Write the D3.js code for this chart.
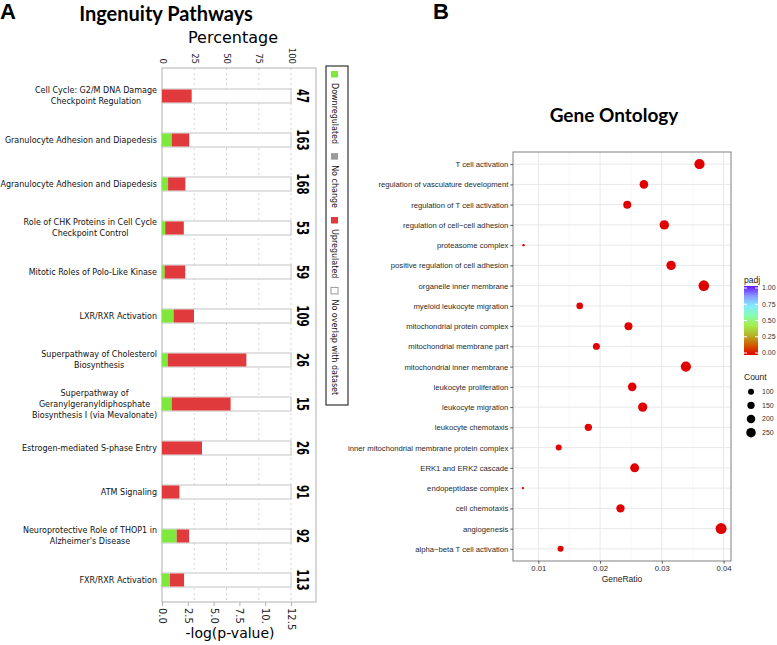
<!DOCTYPE html>
<html>
<head>
<meta charset="utf-8">
<script src="https://cdn.jsdelivr.net/npm/d3@7"></script>
<style>
body { margin: 0; background: #fff; }
svg { display: block; }
</style>
</head>
<body>
<div id="chart"></div>
<script>
// ---- panel A data (IPA) ----
var pathways = [
    "Cell Cycle: G2/M DNA Damage\nCheckpoint Regulation",
    "Granulocyte Adhesion and Diapedesis",
    "Agranulocyte Adhesion and Diapedesis",
    "Role of CHK Proteins in Cell Cycle\nCheckpoint Control",
    "Mitotic Roles of Polo-Like Kinase",
    "LXR/RXR Activation",
    "Superpathway of Cholesterol\nBiosynthesis",
    "Superpathway of\nGeranylgeranyldiphosphate\nBiosynthesis I (via Mevalonate)",
    "Estrogen-mediated S-phase Entry",
    "ATM Signaling",
    "Neuroprotective Role of THOP1 in\nAlzheimer's Disease",
    "FXR/RXR Activation"
];
var downPct     = [0, 7.5, 4.7, 2.5, 2, 9, 4.4, 7.5, 0, 0, 11.4, 6.2];
var noChangePct = [0, 0, 0, 0, 0, 0, 0, 0, 0, 0, 0, 0];
var upPct       = [23, 13.6, 13.4, 14.4, 16, 15.8, 61, 45.7, 31, 13.5, 9.6, 10.9];
var totalGenes  = [47, 163, 168, 53, 59, 109, 26, 15, 26, 91, 92, 113];
var pctTicks = [0, 25, 50, 75, 100];
var logTicks = [0, 2.5, 5, 7.5, 10, 12.5];
var legendA = ["Downregulated", "No change", "Upregulated", "No overlap with dataset"];

// ---- panel B data (GO) ----
var goTerms = [
    "T cell activation",
    "regulation of vasculature development",
    "regulation of T cell activation",
    "regulation of cell\u2212cell adhesion",
    "proteasome complex",
    "positive regulation of cell adhesion",
    "organelle inner membrane",
    "myeloid leukocyte migration",
    "mitochondrial protein complex",
    "mitochondrial membrane part",
    "mitochondrial inner membrane",
    "leukocyte proliferation",
    "leukocyte migration",
    "leukocyte chemotaxis",
    "inner mitochondrial membrane protein complex",
    "ERK1 and ERK2 cascade",
    "endopeptidase complex",
    "cell chemotaxis",
    "angiogenesis",
    "alpha\u2212beta T cell activation"
];
var geneRatio = [0.0361, 0.0271, 0.0244, 0.0304, 0.0076, 0.0315, 0.0368, 0.0167, 0.0246, 0.0194,
                 0.0339, 0.0252, 0.0269, 0.0181, 0.0133, 0.0256, 0.0075, 0.0233, 0.0396, 0.0136];
var geneCount = [290, 205, 178, 245, 16, 245, 312, 121, 178, 136,
                 290, 205, 240, 150, 100, 225, 16, 196, 336, 100];
var padj = [0.0001, 0.0002, 0.0004, 0.0001, 0.003, 0.0001, 0.0001, 0.002, 0.001, 0.002,
            0.0001, 0.0003, 0.0001, 0.001, 0.004, 0.0002, 0.005, 0.0006, 0.0001, 0.004];
var xTicksB = [0.01, 0.02, 0.03, 0.04];
var padjTicks = [0, 0.25, 0.5, 0.75, 1];
var countTicks = [100, 150, 200, 250];
var padjColors = ["#e00000", "#d25a00", "#b4b428", "#a4ee4a", "#86fcb0", "#84eaff", "#8898ff", "#6414ff"];

var W = 777, H = 645;
var svg = d3.select("#chart").append("svg").attr("width", W).attr("height", H);
svg.append("rect").attr("width", W).attr("height", H).attr("fill", "#fff");

var sansA = "'DejaVu Sans', Verdana, sans-serif";
var sansB = "'Liberation Sans', Arial, sans-serif";
var titleFont = "Lato, 'Open Sans', sans-serif";

// =================== panel A ===================
var green = "#7fe83c", red = "#e03a3c", grey = "#9a9a9a";
var aLeft = 162, aTop = 68, aBottom = 602, aRight = 316;

var xPct = d3.scaleLinear().domain([0, 100]).range([162, 291]);
var xLog = d3.scaleLinear().domain([0, 12.5]).range([162, 291]);
var yA = d3.scaleBand().domain(pathways).range([74, 602]);

svg.append("text").attr("x", 0).attr("y", 19)
    .style("font-family", sansB).style("font-weight", "bold").style("font-size", "22px")
    .text("A");
svg.append("text").attr("x", 166).attr("y", 21).attr("text-anchor", "middle")
    .style("font-family", titleFont).style("font-weight", "bold").style("font-size", "20px")
    .text("Ingenuity Pathways");
svg.append("text").attr("x", 233).attr("y", 43).attr("text-anchor", "middle")
    .style("font-family", sansA).style("font-size", "16px")
    .text("Percentage");

var gA = svg.append("g");

// dashed grid
gA.selectAll(".vgrid").data([25, 50, 75, 100]).enter().append("line")
    .attr("x1", d => xPct(d)).attr("x2", d => xPct(d))
    .attr("y1", aTop).attr("y2", aBottom)
    .attr("stroke", "#d4d4d4").attr("stroke-dasharray", "2,3");

// frame
gA.append("rect").attr("x", aLeft).attr("y", aTop).attr("width", aRight - aLeft).attr("height", aBottom - aTop)
    .attr("fill", "none").attr("stroke", "#b0b0b0");

// bars
var barH = 14;
pathways.forEach(function(p, i) {
    var yc = yA(p) + yA.bandwidth() / 2;
    gA.append("rect").attr("x", xPct(0)).attr("y", yc - barH / 2)
        .attr("width", xPct(100) - xPct(0)).attr("height", barH)
        .attr("fill", "#fff").attr("stroke", "#c4c4c4");
    var segs = [[downPct[i], green], [noChangePct[i], grey], [upPct[i], red]];
    var acc = 0;
    segs.forEach(function(s) {
        if (s[0] > 0) {
            gA.append("rect").attr("x", xPct(acc)).attr("y", yc - barH / 2 + 0.5)
                .attr("width", xPct(acc + s[0]) - xPct(acc)).attr("height", barH - 1)
                .attr("fill", s[1]);
        }
        acc += s[0];
    });

    // counts
    gA.append("text")
        .attr("transform", "translate(302," + yc + ") rotate(90) scale(0.68,1)")
        .attr("text-anchor", "middle").attr("dy", "0.36em")
        .style("font-family", sansA).style("font-weight", "bold").style("font-size", "15px")
        .text(totalGenes[i]);

    // category label, centred lines, block right aligned
    var lines = p.split("\n");
    var lg = gA.append("g");
    lines.forEach(function(l, j) {
        lg.append("text").attr("x", 0).attr("y", yc + (j - (lines.length - 1) / 2) * 11)
            .attr("dy", "0.35em").attr("text-anchor", "middle")
            .style("font-family", sansA).style("font-size", "8px").style("fill", "#111")
            .text(l);
    });
    var bw = lg.node().getBBox().width;
    lg.attr("transform", "translate(" + (157 - bw / 2) + ",0)");
});

// top axis (percentage)
var topAxis = gA.append("g").attr("transform", "translate(0," + aTop + ")")
    .call(d3.axisTop(xPct).tickValues(pctTicks).tickSize(0));
topAxis.select(".domain").remove();
topAxis.selectAll("text")
    .attr("transform", "rotate(90)").attr("x", -4).attr("y", 0).attr("dy", "0.35em")
    .style("text-anchor", "end").style("font-family", sansA).style("font-size", "8.5px").style("fill", "#222");

// bottom axis (-log p)
var botAxis = gA.append("g").attr("transform", "translate(0," + aBottom + ")")
    .call(d3.axisBottom(xLog).tickValues(logTicks).tickSize(4)
        .tickFormat(d => d === 10 ? "10." : d3.format(".1f")(d)));
botAxis.select(".domain").remove();
botAxis.selectAll("line").attr("stroke", "#b0b0b0");
botAxis.selectAll("text")
    .attr("transform", "rotate(90)").attr("x", 6).attr("y", 0).attr("dy", "0.35em")
    .style("text-anchor", "start").style("font-family", sansA).style("font-size", "10px").style("fill", "#222");

svg.append("text").attr("x", 230).attr("y", 638).attr("text-anchor", "middle")
    .style("font-family", sansA).style("font-size", "14px")
    .text("-log(p-value)");

// legend box
var legA = svg.append("g");
legA.append("rect").attr("x", 326).attr("y", 66).attr("width", 22).attr("height", 339)
    .attr("fill", "#fff").attr("stroke", "#333").attr("stroke-width", 1.2);
var legFill = [green, grey, red, "#fff"];
var ly = 71;
legendA.forEach(function(name, i) {
    legA.append("rect").attr("x", 331).attr("y", ly).attr("width", 7).attr("height", 6.5)
        .attr("fill", legFill[i]).attr("stroke", i === 3 ? "#999" : "none");
    ly += 12;
    var t = legA.append("text").attr("transform", "translate(335," + ly + ") rotate(90)")
        .attr("dy", "0.35em")
        .style("font-family", sansA).style("font-size", "8px").style("fill", "#111")
        .text(name);
    ly += t.node().getComputedTextLength() + 9;
});

// =================== panel B ===================
var bL = 513, bR = 731, bT = 152, bB = 561;
var gExt = d3.extent(geneRatio), gPad = (gExt[1] - gExt[0]) * 0.05;
var xB = d3.scaleLinear().domain([gExt[0] - gPad, gExt[1] + gPad]).range([bL, bR]);
var yB = d3.scalePoint().domain(goTerms).range([bT, bB]).padding(0.6);
var rB = d3.scaleSqrt().domain([0, 400]).range([0, 6]);
var cB = d3.scaleLinear().domain(padjColors.map((c, i) => i / (padjColors.length - 1))).range(padjColors);

svg.append("text").attr("x", 433).attr("y", 19)
    .style("font-family", sansB).style("font-weight", "bold").style("font-size", "22px")
    .text("B");
svg.append("text").attr("x", 614).attr("y", 122).attr("text-anchor", "middle")
    .style("font-family", titleFont).style("font-weight", "bold").style("font-size", "19px")
    .text("Gene Ontology");

var gB = svg.append("g");
// minor grid
gB.selectAll(".minor").data([0.015, 0.025, 0.035]).enter().append("line")
    .attr("x1", d => xB(d)).attr("x2", d => xB(d)).attr("y1", bT).attr("y2", bB)
    .attr("stroke", "#f2f2f2").attr("stroke-width", 0.6);
// major grid
gB.selectAll(".majx").data(xTicksB).enter().append("line")
    .attr("x1", d => xB(d)).attr("x2", d => xB(d)).attr("y1", bT).attr("y2", bB)
    .attr("stroke", "#e8e8e8").attr("stroke-width", 1);
gB.selectAll(".majy").data(goTerms).enter().append("line")
    .attr("x1", bL).attr("x2", bR).attr("y1", d => yB(d)).attr("y2", d => yB(d))
    .attr("stroke", "#e8e8e8").attr("stroke-width", 1);

// points
gB.selectAll(".pt").data(goTerms).enter().append("circle")
    .attr("cx", (d, i) => xB(geneRatio[i]))
    .attr("cy", d => yB(d))
    .attr("r", (d, i) => rB(geneCount[i]))
    .attr("fill", (d, i) => cB(padj[i]));

gB.append("rect").attr("x", bL).attr("y", bT).attr("width", bR - bL).attr("height", bB - bT)
    .attr("fill", "none").attr("stroke", "#808080").attr("stroke-width", 1);

var yAxB = gB.append("g").attr("transform", "translate(" + bL + ",0)")
    .call(d3.axisLeft(yB).tickSize(2.7).tickPadding(2));
yAxB.select(".domain").remove();
yAxB.selectAll("line").attr("stroke", "#555");
yAxB.selectAll("text").style("font-family", sansB).style("font-size", "7.7px").style("fill", "#2a2a2a");

var xAxB = gB.append("g").attr("transform", "translate(0," + bB + ")")
    .call(d3.axisBottom(xB).tickValues(xTicksB).tickSize(2.7).tickPadding(2).tickFormat(d3.format(".2f")));
xAxB.select(".domain").remove();
xAxB.selectAll("line").attr("stroke", "#555");
xAxB.selectAll("text").style("font-family", sansB).style("font-size", "7.7px").style("fill", "#2a2a2a");

svg.append("text").attr("x", (bL + bR) / 2).attr("y", 582).attr("text-anchor", "middle")
    .style("font-family", sansB).style("font-size", "8.5px").style("fill", "#222")
    .text("GeneRatio");

// colour bar legend
var defs = svg.append("defs");
var grad = defs.append("linearGradient").attr("id", "padjGrad")
    .attr("x1", 0).attr("y1", 1).attr("x2", 0).attr("y2", 0);
padjColors.forEach(function(c, i) {
    grad.append("stop").attr("offset", i / (padjColors.length - 1)).attr("stop-color", c);
});
var cbY = d3.scaleLinear().domain([0, 1]).range([353, 288]);
svg.append("text").attr("x", 744).attr("y", 283)
    .style("font-family", sansB).style("font-size", "8.5px").style("fill", "#222").text("padj");
svg.append("rect").attr("x", 744).attr("y", 286).attr("width", 14).attr("height", 69)
    .attr("fill", "url(#padjGrad)");
padjTicks.forEach(function(t) {
    svg.append("line").attr("x1", 744).attr("x2", 747).attr("y1", cbY(t)).attr("y2", cbY(t)).attr("stroke", "#fff");
    svg.append("line").attr("x1", 755).attr("x2", 758).attr("y1", cbY(t)).attr("y2", cbY(t)).attr("stroke", "#fff");
    svg.append("text").attr("x", 762).attr("y", cbY(t)).attr("dy", "0.35em")
        .style("font-family", sansB).style("font-size", "7px").style("fill", "#333")
        .text(d3.format(".2f")(t));
});

// size legend
svg.append("text").attr("x", 744).attr("y", 380)
    .style("font-family", sansB).style("font-size", "8.5px").style("fill", "#222").text("Count");
var cntY = d3.scalePoint().domain(countTicks).range([391.7, 432.7]);
countTicks.forEach(function(c) {
    svg.append("circle").attr("cx", 751).attr("cy", cntY(c)).attr("r", rB(c)).attr("fill", "#000");
    svg.append("text").attr("x", 762).attr("y", cntY(c)).attr("dy", "0.35em")
        .style("font-family", sansB).style("font-size", "7px").style("fill", "#333").text(c);
});
</script>
</body>
</html>
